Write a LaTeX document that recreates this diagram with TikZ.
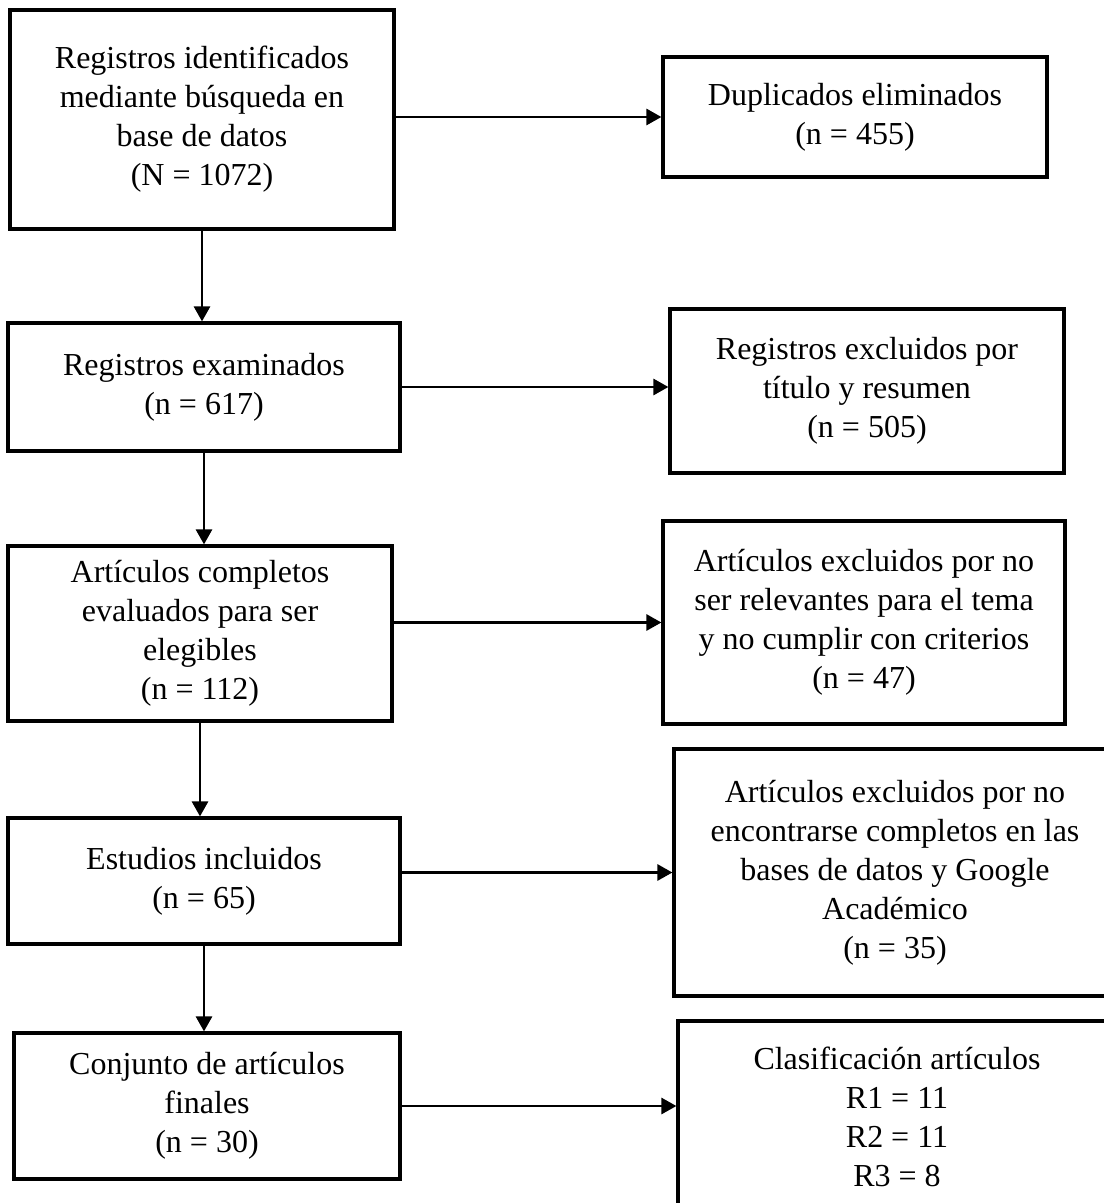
\documentclass[tikz,border=0pt]{standalone}
\usepackage{fontspec}
\setmainfont{Liberation Serif}
\usetikzlibrary{arrows.meta}
\begin{document}
\begin{tikzpicture}[x=0.5pt,y=-0.5pt,
  box/.style={draw,line width=1.6pt,align=center,inner sep=0pt,font=\fontsize{16}{19.5}\selectfont},
  arr/.style={line width=1.4pt,-{Triangle[length=7.5pt,width=8pt]}}]
\useasboundingbox (0,0) rectangle (1103,1203);

\node[box,minimum width=192pt,minimum height=109.5pt] (reg) at (202,119.5)
  {Registros identificados\\mediante búsqueda en\\base de datos\\(N = 1072)};
\node[box,minimum width=196pt,minimum height=64pt] (exam) at (204,387)
  {Registros examinados\\(n = 617)};
\node[box,minimum width=192pt,minimum height=87.5pt] (compl) at (200,633.5)
  {Artículos completos\\evaluados para ser\\elegibles\\(n = 112)};
\node[box,minimum width=196pt,minimum height=63pt] (incl) at (204,881)
  {Estudios incluidos\\(n = 65)};
\node[box,minimum width=193pt,minimum height=73pt] (final) at (207,1106)
  {Conjunto de artículos\\finales\\(n = 30)};

\node[box,minimum width=192pt,minimum height=60pt] (dupl) at (855,117)
  {Duplicados eliminados\\(n = 455)};
\node[box,minimum width=197pt,minimum height=82pt] (excl) at (867,391)
  {Registros excluidos por\\título y resumen\\(n = 505)};
\node[box,minimum width=201pt,minimum height=101.5pt] (noRel) at (864,622.5)
  {Artículos excluidos por no\\ser relevantes para el tema\\y no cumplir con criterios\\(n = 47)};
\node[box,minimum width=221pt,minimum height=123.5pt] (noDisp) at (895,872.5)
  {Artículos excluidos por no\\encontrarse completos en las\\bases de datos y Google\\Académico\\(n = 35)};
\node[box,minimum width=219pt,minimum height=95.5pt] (clasif) at (897,1116.5)
  {Clasificación artículos\\R1 = 11\\R2 = 11\\R3 = 8};

\draw[arr] (reg.south) -- (reg.south |- exam.north);
\draw[arr] (exam.south) -- (exam.south |- compl.north);
\draw[arr] (compl.south) -- (compl.south |- incl.north);
\draw[arr] (incl.south) -- (incl.south |- final.north);

\draw[arr] (reg.east |- dupl.west) -- (dupl.west);
\draw[arr] (exam.east) -- (exam.east -| excl.west);
\draw[arr] (compl.east |- noRel.west) -- (noRel.west);
\draw[arr] (incl.east |- noDisp.west) -- (noDisp.west);
\draw[arr] (final.east) -- (final.east -| clasif.west);
\end{tikzpicture}
\end{document}
